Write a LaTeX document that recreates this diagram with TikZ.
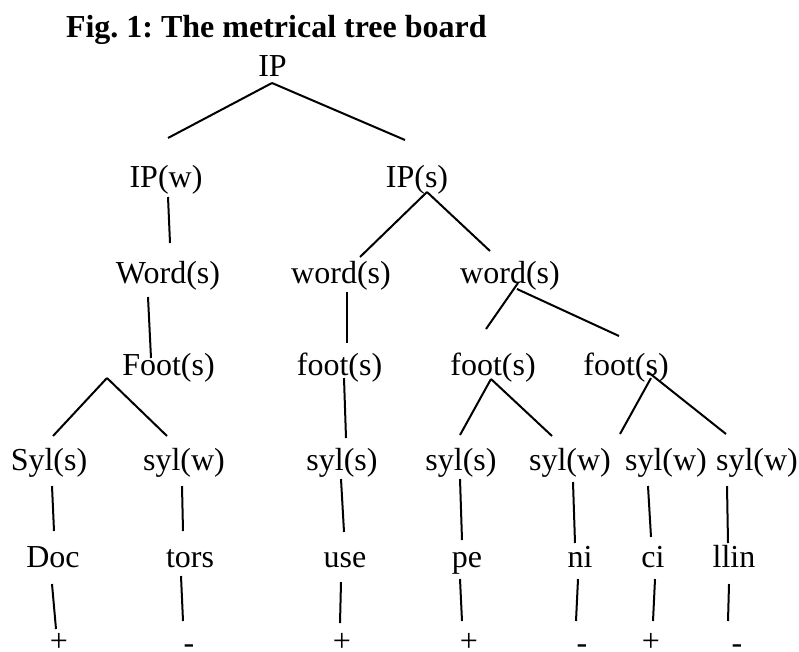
\documentclass[tikz,border=0pt]{standalone}
\usepackage{fontspec}
\setmainfont{Liberation Serif}
\usetikzlibrary{calc}
\frenchspacing
\tikzset{
  lbl/.style={anchor=base, inner sep=0pt, outer sep=0pt, font=\fontsize{32}{38}\selectfont},
  ttl/.style={anchor=base west, inner sep=0pt, outer sep=0pt, font=\fontsize{32}{38}\selectfont\bfseries},
  edge/.style={line width=2pt}
}
\newcommand\lnk[4]{\draw[edge] ($(#1.base)+(#2)$) -- ($(#3.base)+(#4)$);}
\begin{document}
\begin{tikzpicture}[x=1pt,y=-1pt]
\useasboundingbox (0,0) rectangle (799,651);
\node[ttl] (title) at (66,37) {Fig. 1: The metrical tree board};
\node[lbl] (IP) at (272.5,76) {IP};
\node[lbl] (IPw) at (166,187) {IP(w)};
\node[lbl] (IPs) at (417,187) {IP(s)};
\node[lbl] (Word) at (168,283) {Word(s)};
\node[lbl] (wordL) at (341,283) {word(s)};
\node[lbl] (wordR) at (510,283) {word(s)};
\node[lbl] (Foot) at (168.5,375) {Foot(s)};
\node[lbl] (footL) at (339.5,375) {foot(s)};
\node[lbl] (footM) at (493,375) {foot(s)};
\node[lbl] (footR) at (626,375) {foot(s)};
\node[lbl] (sylA) at (49,470) {Syl(s)};
\node[lbl] (sylB) at (184,470) {syl(w)};
\node[lbl] (sylC) at (342,470) {syl(s)};
\node[lbl] (sylD) at (461,470) {syl(s)};
\node[lbl] (sylE) at (570,470) {syl(w)};
\node[lbl] (sylF) at (666,470) {syl(w)};
\node[lbl] (sylG) at (757,470) {syl(w)};
\node[lbl] (Doc) at (53,567) {Doc};
\node[lbl] (tors) at (190,567) {tors};
\node[lbl] (use) at (345,567) {use};
\node[lbl] (pe) at (467,567) {pe};
\node[lbl] (ni) at (580,567) {ni};
\node[lbl] (ci) at (653,567) {ci};
\node[lbl] (llin) at (734,567) {llin};
\node[lbl] (p1) at (59,651) {+};
\node[lbl] (m1) at (189,653) {-};
\node[lbl] (p2) at (342,651) {+};
\node[lbl] (p3) at (469,651) {+};
\node[lbl] (m2) at (582,653) {-};
\node[lbl] (p4) at (651,651) {+};
\node[lbl] (m3) at (737,653) {-};
\lnk{IP}{-0.5,7}{IPw}{2,-49}
\lnk{IP}{-0.5,7}{IPs}{-12,-47}
\lnk{IPw}{2,10}{Word}{2,-40}
\lnk{IPs}{10,5}{wordL}{19,-26}
\lnk{IPs}{10,5}{wordR}{-20,-32}
\lnk{Word}{-20,14}{Foot}{-17.5,-17}
\lnk{wordL}{6,9}{footL}{7.5,-32}
\lnk{wordR}{8,0}{footM}{-7,-46}
\lnk{wordR}{7,6}{footR}{-7,-39}
\lnk{Foot}{-61.5,3}{sylA}{4,-34}
\lnk{Foot}{-61.5,3}{sylB}{-17,-34}
\lnk{footL}{4.5,3}{sylC}{4,-32}
\lnk{footM}{-2,4}{sylD}{-1,-35}
\lnk{footM}{-2,4}{sylE}{-18,-34}
\lnk{footR}{25,3}{sylF}{-46,-36}
\lnk{footR}{22,-3}{sylG}{-31,-36}
\lnk{sylA}{3,16}{Doc}{1,-36}
\lnk{sylB}{-2,16}{tors}{-7,-36}
\lnk{sylC}{-1,9}{use}{-1,-35}
\lnk{sylD}{-1,9}{pe}{-5,-27}
\lnk{sylE}{3,12}{ni}{-5,-24}
\lnk{sylF}{-18,16}{ci}{-2,-30}
\lnk{sylG}{-30,16}{llin}{-6,-24}
\lnk{Doc}{-1,17}{p1}{-3,-22}
\lnk{tors}{-9,9}{m1}{-6,-32}
\lnk{use}{-4,15}{p2}{-2,-28}
\lnk{pe}{-7,12}{p3}{-7,-30}
\lnk{ni}{-2,12}{m2}{-6,-32}
\lnk{ci}{2,12}{p4}{2,-30}
\lnk{llin}{-5,17}{m3}{-9,-32}
\end{tikzpicture}
\end{document}
